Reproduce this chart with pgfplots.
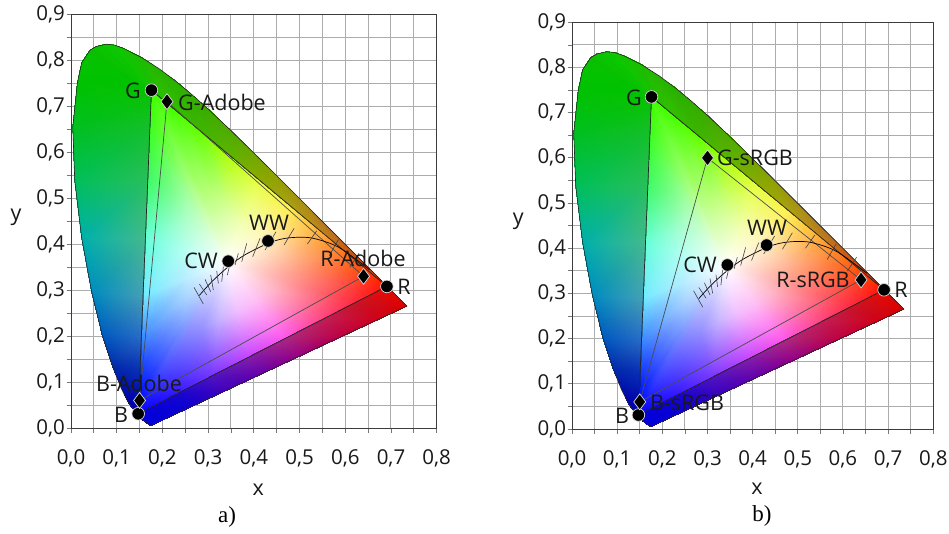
\documentclass[border=0pt]{standalone}
\usepackage{pgfplots}
\usepackage{pgfplotstable}
\usepackage{fontspec}
\setmainfont{Open Sans}
\newfontfamily\capfont{Liberation Serif}
\pgfplotsset{compat=1.18}
\usepgfplotslibrary{patchplots}
\definecolor{gridc}{RGB}{172,172,172}
\definecolor{framec}{RGB}{60,60,60}
\definecolor{txtc}{RGB}{25,25,25}
\newcommand{\lab}{\fontsize{21.5}{24}\selectfont\color{txtc}}
% rays around the white centre: centre, mid, gamut edge (bright), gamut edge (dark), spectral locus
\pgfplotstableread{
x y c
.34 .36 1,1,1
.255 .5475 .63,1,.47
.176 .735 .24,1,0
.176 .735 .08,.76,0
.1547 .8059 .12,.73,0
.34 .36 1,1,1
.28 .527 .67,1,.43
.22 .6985 .27,1,0
.22 .6985 .2,.75,0
.2296 .7543 .16,.69,0
.34 .36 1,1,1
.31 .502 .75,1,.5
.28 .6488 .39,1,0
.28 .6488 .24,.71,0
.3016 .6923 .24,.67,0
.34 .36 1,1,1
.34 .477 .84,1,.6
.34 .599 .67,1,.04
.34 .599 .35,.71,0
.3731 .6245 .35,.67,0
.34 .36 1,1,1
.375 .448 .95,1,.68
.41 .541 .9,1,.24
.41 .541 .55,.67,0
.4441 .5547 .55,.63,0
.34 .36 1,1,1
.41 .419 1,.97,.75
.48 .483 1,.94,.3
.48 .483 .67,.63,.08
.5125 .4866 .67,.55,.08
.34 .36 1,1,1
.445 .39 1,.86,.7
.55 .425 1,.67,.2
.55 .425 .75,.51,.12
.5752 .4242 .73,.43,.12
.34 .36 1,1,1
.475 .366 1,.73,.6
.61 .3753 1,.43,.08
.61 .3753 .84,.35,.06
.627 .3725 .82,.29,.04
.34 .36 1,1,1
.4975 .347 1,.63,.51
.655 .338 1,.24,0
.655 .338 .94,.2,0
.6658 .334 .92,.18,0
.34 .36 1,1,1
.515 .3325 1,.55,.47
.691 .308 1,.08,0
.691 .308 .92,.08,0
.7079 .292 .92,.1,0
.34 .36 1,1,1
.515 .3325 1,.55,.47
.691 .308 1,.08,0
.691 .308 .92,.04,0
.7347 .2653 .86,0,0
.34 .36 1,1,1
.48 .315 1,.6,.6
.62 .2718 1,.16,.24
.62 .2718 .78,.08,.16
.68 .2398 .82,0,.08
.34 .36 1,1,1
.445 .297 1,.7,.78
.55 .2361 1,.27,.51
.55 .2361 .75,.12,.35
.6 .2027 .75,0,.24
.34 .36 1,1,1
.405 .2765 1,.75,.96
.47 .1954 1,.33,.92
.47 .1954 .67,.16,.51
.5 .1562 .59,0,.51
.34 .36 1,1,1
.365 .256 .95,.75,1
.39 .1547 .78,.27,1
.39 .1547 .51,.12,.67
.41 .1145 .39,0,.67
.34 .36 1,1,1
.325 .236 .78,.7,1
.31 .114 .47,.2,1
.31 .114 .31,.08,.75
.33 .0774 .24,0,.75
.34 .36 1,1,1
.285 .215 .58,.56,1
.23 .0732 .2,.08,1
.23 .0732 .08,.02,.82
.25 .0402 .04,0,.82
.34 .36 1,1,1
.245 .195 .48,.5,1
.147 .031 0,0,1
.147 .031 0,0,.86
.1741 .005 0,0,.86
.34 .36 1,1,1
.245 .195 .48,.5,1
.147 .031 0,0,1
.147 .031 0,0,.82
.1566 .0177 0,0,.82
.34 .36 1,1,1
.245 .195 .48,.5,1
.147 .031 0,0,1
.147 .031 0,0,.75
.144 .0297 0,0,.75
.34 .36 1,1,1
.246 .22 .5,.6,1
.15 .08 0,.08,1
.15 .08 0,.08,.67
.1241 .0578 0,0,.67
.34 .36 1,1,1
.246 .245 .55,.7,1
.152 .13 .08,.24,1
.152 .13 .04,.2,.71
.0913 .1327 0,.16,.67
.34 .36 1,1,1
.247 .28 .65,.82,1
.1548 .2 .24,.55,1
.1548 .2 .16,.43,.78
.0687 .2007 0,.35,.75
.34 .36 1,1,1
.249 .325 .72,.93,1
.1583 .29 .45,.92,1
.1583 .29 .27,.63,.71
.0454 .295 0,.55,.75
.34 .36 1,1,1
.25 .385 .72,1,.95
.1631 .41 .4,1,.85
.1631 .41 .27,.73,.55
.0235 .4127 0,.69,.67
.34 .36 1,1,1
.252 .45 .68,1,.8
.1683 .54 .24,.98,.4
.1683 .54 .16,.75,.35
.0082 .5384 0,.75,.35
.34 .36 1,1,1
.254 .5075 .63,1,.63
.1728 .655 .24,1,.12
.1728 .655 .08,.75,.16
.0039 .6548 0,.75,.12
.34 .36 1,1,1
.255 .535 .63,1,.5
.175 .71 .24,1,0
.175 .71 .04,.76,.04
.0139 .7502 0,.76,0
.34 .36 1,1,1
.255 .5475 .63,1,.47
.176 .735 .24,1,0
.176 .735 0,.76,0
.0235 .795 .02,.76,0
.34 .36 1,1,1
.255 .5475 .63,1,.47
.176 .735 .24,1,0
.176 .735 0,.76,0
.0416 .822 .04,.75,0
.34 .36 1,1,1
.255 .5475 .63,1,.47
.176 .735 .24,1,0
.176 .735 .02,.76,0
.0555 .83 .04,.77,0
.34 .36 1,1,1
.255 .5475 .63,1,.47
.176 .735 .24,1,0
.176 .735 .04,.76,0
.0766 .835 .04,.78,0
.34 .36 1,1,1
.255 .5475 .63,1,.47
.176 .735 .24,1,0
.176 .735 .05,.76,0
.095 .833 .06,.78,0
.34 .36 1,1,1
.255 .5475 .63,1,.47
.176 .735 .24,1,0
.176 .735 .06,.76,0
.1142 .8262 .08,.76,0
.34 .36 1,1,1
.255 .5475 .63,1,.47
.176 .735 .24,1,0
.176 .735 .08,.76,0
.1547 .8059 .12,.73,0
}\meshdata
\pgfplotstableread{
x y
.1741 .005
.1566 .0177
.144 .0297
.1241 .0578
.1096 .0868
.0913 .1327
.0687 .2007
.0454 .295
.0235 .4127
.0082 .5384
.0039 .6548
.0139 .7502
.0235 .795
.0416 .822
.0555 .83
.0766 .835
.095 .833
.1142 .8262
.1547 .8059
.1929 .7816
.2296 .7543
.2658 .7243
.3016 .6923
.3373 .6589
.3731 .6245
.4087 .5896
.4441 .5547
.4788 .5202
.5125 .4866
.5448 .4544
.5752 .4242
.6029 .3965
.627 .3725
.6658 .334
.6915 .3083
.7079 .292
.726 .274
.7347 .2653
.1741 .005
}\locus
\pgfplotstableread{
x y
.2807 .2884
.2952 .3048
.3135 .3237
.3451 .3516
.3805 .3768
.4369 .4041
.477 .4137
.5267 .4133
.5857 .3931
.6528 .3444
}\planck
\pgfplotstableread{
x y
.2691 .306
.2895 .2697
nan nan
.2808 .3133
.2969 .2893
nan nan
.2932 .3234
.3056 .2966
nan nan
.3056 .3328
.3114 .3002
nan nan
.3188 .3415
.3224 .3147
nan nan
.3333 .3509
.3297 .3183
nan nan
.3479 .3582
.3421 .3328
nan nan
.3661 .38
.3589 .3546
nan nan
.3844 .4018
.3735 .3618
nan nan
.4136 .4126
.3975 .3727
nan nan
.4486 .4271
.4245 .3872
nan nan
.488 .4344
.4661 .3981
nan nan
.5376 .4292
.5171 .4003
nan nan
.585 .41
.565 .375
nan nan
.63 .38
.61 .35
}\iso
\pgfplotstableread{
x y
.176 .735
.691 .308
.147 .031
.176 .735
}\wide
\pgfplotstableread{
x y
.176 .735
.691 .308
.147 .031
.344 .363
.431 .407
}\circles
\pgfplotsset{
  cie/.style={
    scale only axis,
    xmin=0,xmax=.8,ymin=0,ymax=.9,
    xtick={0,.1,...,.8},ytick={0,.1,...,.9},
    minor x tick num=1,minor y tick num=1,
    grid=both,
    major grid style={gridc,line width=1pt},
    minor grid style={gridc,line width=1pt},
    axis line style={framec,line width=.9pt},
    tick style={gridc!70!black,line width=.8pt},
    major tick length=4.5pt,minor tick length=4.5pt,
    tick align=outside,xtick pos=bottom,ytick pos=left,
    xticklabel style={yshift=-13.5pt,font=\fontsize{20.5}{24}\selectfont\color{txtc},/pgf/number format/.cd,fixed,fixed zerofill,precision=1,use comma,assume math mode=true},
    yticklabel style={xshift=2pt,font=\fontsize{20.5}{24}\selectfont\color{txtc},/pgf/number format/.cd,fixed,fixed zerofill,precision=1,use comma,assume math mode=true},
    xlabel=x,ylabel=y,
    xlabel style={font=\lab},
    ylabel style={font=\lab,rotate=-90},
    unbounded coords=jump,
    clip=false,
  },
  meshplot/.style={surf,shader=interp,mesh/cols=5,mesh/rows=35,mesh/color input=explicit},
  cmark/.style={only marks,mark=*,mark size=6.3pt,mark options={draw=white!85!black,line width=.7pt,fill=black}},
  dmark/.style={only marks,mark=diamond*,mark size=8pt,mark options={draw=white!85!black,line width=.7pt,fill=black}},
}
\begin{document}
\begin{tikzpicture}[x=1pt,y=1pt]
\path[fill=white,use as bounding box] (0,-533) rectangle (949,0);
% panel a
\begin{axis}[cie,at={(71pt,-428pt)},anchor=south west,width=365.7pt,height=413.7pt,
  every axis x label/.append style={at={(axis description cs:.512,-.15)},anchor=center},
  every axis y label/.append style={at={(axis description cs:-.150,.51)},anchor=center}]
\addplot[meshplot] table[meta=c] {\meshdata};
\addplot[black!85,line width=.6pt] table {\locus};
\addplot[black!85,line width=.7pt] table {\wide};
\addplot[black!70,line width=.7pt] coordinates {(.21,.71) (.64,.33) (.15,.06) (.21,.71)};
\addplot[black,line width=.7pt,smooth] table {\planck};
\addplot[black!75,line width=.6pt] table {\iso};
\addplot[cmark] table {\circles};
\addplot[dmark] coordinates {(.21,.71) (.64,.33) (.15,.06)};
\end{axis}
% panel b
\begin{axis}[cie,at={(572pt,-429pt)},anchor=south west,width=361.3pt,height=406.7pt,
  every axis x label/.append style={at={(axis description cs:.512,-.148)},anchor=center},
  every axis y label/.append style={at={(axis description cs:-.149,.511)},anchor=center}]
\addplot[meshplot] table[meta=c] {\meshdata};
\addplot[black!85,line width=.6pt] table {\locus};
\addplot[black!85,line width=.7pt] table {\wide};
\addplot[black!70,line width=.7pt] coordinates {(.30,.60) (.64,.33) (.15,.06) (.30,.60)};
\addplot[black,line width=.7pt,smooth] table {\planck};
\addplot[black!75,line width=.6pt] table {\iso};
\addplot[cmark] table {\circles};
\addplot[dmark] coordinates {(.30,.60) (.64,.33) (.15,.06)};
\end{axis}
% text labels
\node[font=\lab] at (133,-91) {G};
\node[font=\lab] at (222,-102) {G-Adobe};
\node[font=\lab] at (269,-223) {WW};
\node[font=\lab] at (201,-261) {CW};
\node[font=\lab] at (363,-258) {R-Adobe};
\node[font=\lab] at (404,-287) {R};
\node[font=\lab] at (139,-383) {B-Adobe};
\node[font=\lab] at (121,-415) {B};
\node[font=\lab] at (634,-98) {G};
\node[font=\lab] at (755,-158) {G-sRGB};
\node[font=\lab] at (767,-228) {WW};
\node[font=\lab] at (700,-265) {CW};
\node[font=\lab] at (813,-280) {R-sRGB};
\node[font=\lab] at (901,-290) {R};
\node[font=\lab] at (687,-403) {B-sRGB};
\node[font=\lab] at (622,-416) {B};
\node[font=\capfont\fontsize{23}{26}\selectfont] at (227,-517) {a)};
\node[font=\capfont\fontsize{23}{26}\selectfont] at (762,-516) {b)};
\end{tikzpicture}
\end{document}
